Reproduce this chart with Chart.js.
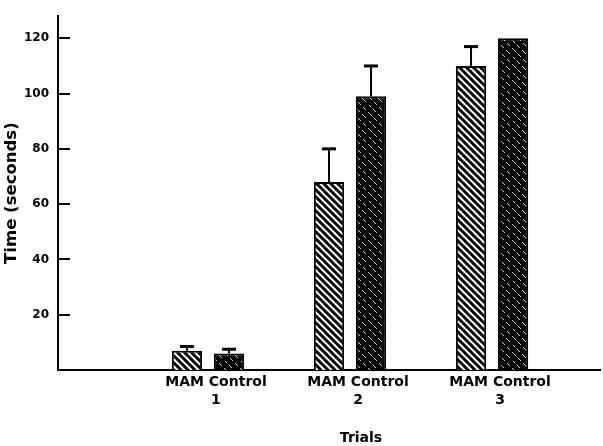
<!DOCTYPE html>
<html>
<head>
<meta charset="utf-8">
<script src="https://cdn.jsdelivr.net/npm/chart.js@4.4.0/dist/chart.umd.min.js"></script>
<style>
  html, body { margin: 0; padding: 0; background: #fff; }
</style>
</head>
<body>
<canvas id="chart" width="603" height="446"></canvas>
<script>
// データ
const trials = [1, 2, 3];
const trialLabels = ['1', '2', '3'];
const groupNames = ['MAM', 'Control'];
const mamMeans = [7, 68, 110];
const mamErrors = [1.5, 12, 7];
const controlMeans = [6, 99, 120];
const controlErrors = [1.5, 11, 0];
const yTicks = [20, 40, 60, 80, 100, 120];

const FONT = 'DejaVu Sans';
const canvas = document.getElementById('chart');
const ctx = canvas.getContext('2d');

// 斜線パターンを作る
function makePattern(size, draw) {
  const c = document.createElement('canvas');
  c.width = size;
  c.height = size;
  draw(c.getContext('2d'), size);
  return ctx.createPattern(c, 'repeat');
}

// MAM: 白地に黒の太い斜線
const mamPattern = makePattern(7, (g, s) => {
  g.fillStyle = '#fff';
  g.fillRect(0, 0, s, s);
  g.strokeStyle = '#000';
  g.lineWidth = 3;
  for (let k = -s; k <= s; k += s) {
    g.beginPath();
    g.moveTo(k - 1, -1);
    g.lineTo(k + s + 1, s + 1);
    g.stroke();
  }
});

// Control: 黒地に白のかすれた細い斜線
const controlPattern = makePattern(16, (g, s) => {
  g.fillStyle = '#000';
  g.fillRect(0, 0, s, s);
  g.fillStyle = 'rgba(255,255,255,0.85)';
  const segs = [[0, [[0, 3], [6, 8], [11, 13]]], [8, [[2, 5], [9, 10], [13, 15]]]];
  segs.forEach(([k, parts]) => {
    parts.forEach(([a, b]) => {
      for (let i = a; i <= b; i++) g.fillRect((k + i) % s, i, 1, 1);
    });
  });
});

const errorsByDataset = [mamErrors, controlErrors];
const meansByDataset = [mamMeans, controlMeans];

// エラーバーと内向きの目盛り
const extras = {
  id: 'extras',
  afterDatasetsDraw(chart) {
    const c = chart.ctx;
    const y = chart.scales.y;
    c.save();
    c.strokeStyle = '#000';
    meansByDataset.forEach((means, d) => {
      const meta = chart.getDatasetMeta(d);
      meta.data.forEach((bar, i) => {
        const err = errorsByDataset[d][i];
        if (!err) return;
        const top = y.getPixelForValue(means[i] + err);
        c.lineWidth = 2;
        c.beginPath();
        c.moveTo(bar.x, bar.y);
        c.lineTo(bar.x, top);
        c.stroke();
        c.lineWidth = 3;
        c.beginPath();
        c.moveTo(bar.x - 7, top);
        c.lineTo(bar.x + 7, top);
        c.stroke();
      });
    });
    c.restore();
  },
  afterDraw(chart) {
    const c = chart.ctx;
    const { x, y } = chart.scales;
    const left = chart.chartArea.left;
    c.save();
    c.strokeStyle = '#000';
    c.lineWidth = 2;
    yTicks.forEach(v => {
      const py = Math.round(y.getPixelForValue(v));
      c.beginPath();
      c.moveTo(left, py);
      c.lineTo(left + 12, py);
      c.stroke();
    });
    // 横軸タイトル
    c.fillStyle = '#000';
    c.font = 'bold 14px "' + FONT + '"';
    c.textAlign = 'center';
    c.textBaseline = 'middle';
    c.fillText('Trials', x.getPixelForValue(2) + 11, chart.height - 8);
    c.restore();
  }
};

const chart = new Chart(ctx, {
  type: 'bar',
  data: {
    datasets: [{
      label: groupNames[0],
      data: trials.map((t, i) => ({ x: t, y: mamMeans[i] })),
      backgroundColor: mamPattern,
      borderColor: '#000',
      borderWidth: 2,
      barPercentage: 0.72,
      categoryPercentage: 0.592
    }, {
      label: groupNames[1],
      data: trials.map((t, i) => ({ x: t, y: controlMeans[i] })),
      backgroundColor: controlPattern,
      borderColor: '#000',
      borderWidth: 2,
      barPercentage: 0.72,
      categoryPercentage: 0.592
    }]
  },
  options: {
    responsive: false,
    animation: false,
    layout: { padding: { top: 8, right: 3, left: 0, bottom: 0 } },
    plugins: {
      legend: { display: false },
      tooltip: { enabled: false }
    },
    scales: {
      x: {
        type: 'linear',
        offset: false,
        min: -0.056,
        max: 3.76,
        afterBuildTicks: s => { s.ticks = trials.map(v => ({ value: v })); },
        afterFit: s => { s.height = 76; },
        grid: { display: false, drawTicks: false, offset: false },
        border: { color: '#000', width: 2 },
        ticks: {
          padding: 3,
          labelOffset: 8,
          maxRotation: 0,
          color: '#000',
          font: { family: FONT, size: 14, weight: 'bold', lineHeight: 1.3 },
          callback: (v, i) => [groupNames.join(' '), trialLabels[i]]
        }
      },
      y: {
        min: 0,
        max: 128,
        afterBuildTicks: s => { s.ticks = yTicks.map(v => ({ value: v })); },
        afterFit: s => { s.width = 58; },
        grid: { display: false, drawTicks: false },
        border: { color: '#000', width: 2 },
        ticks: {
          padding: 9,
          color: '#000',
          font: { family: FONT, size: 12, weight: 'bold' }
        },
        title: {
          display: true,
          text: 'Time (seconds)',
          color: '#000',
          font: { family: FONT, size: 16.5, weight: 'bold' },
          padding: { top: 2, bottom: 0 }
        }
      }
    }
  },
  plugins: [extras]
});
</script>
</body>
</html>
